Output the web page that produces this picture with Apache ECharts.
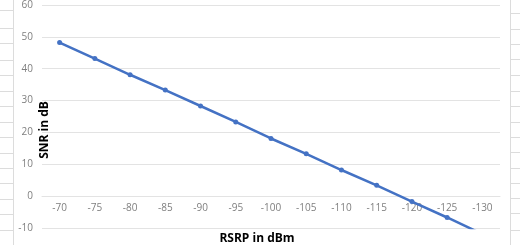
<!DOCTYPE html>
<html>
<head>
<meta charset="utf-8">
<style>html,body{margin:0;padding:0;background:#fff}#c{width:520px;height:245px}</style>
<script src="https://cdn.jsdelivr.net/npm/echarts@6/dist/echarts.min.js"></script>
</head>
<body>
<div id="c"></div>
<script>
const categories = ['-70','-75','-80','-85','-90','-95','-100','-105','-110','-115','-120','-125','-130'];
const snrValues = [48.2, 43.2, 38.1, 33.3, 28.3, 23.3, 18.1, 13.3, 8.2, 3.4, -1.7, -6.7, -11.9];
const yTicks = {min: -10, max: 60, interval: 10};
const xTitle = 'RSRP in dBm';
const yTitle = 'SNR in dB';

const chart = echarts.init(document.getElementById('c'), null, {renderer: 'canvas'});

// spreadsheet cell borders at left and right edges (background decoration)
const deco = [];
const cellRowsLeft = [10, 28, 43, 60, 75, 91, 106, 122, 137, 153, 168, 183, 199, 214, 230];
const cellRowsRight = [13, 29, 44, 59, 75, 91, 106, 122, 137, 152, 168, 183, 198, 213, 230];
deco.push({type:'line', shape:{x1:13.5,y1:0,x2:13.5,y2:245}, style:{stroke:'#dcdcdc',lineWidth:1}, silent:true});
deco.push({type:'line', shape:{x1:510.5,y1:0,x2:510.5,y2:245}, style:{stroke:'#dcdcdc',lineWidth:1}, silent:true});
cellRowsLeft.forEach(y => deco.push({type:'line', shape:{x1:0,y1:y+0.5,x2:13,y2:y+0.5}, style:{stroke:'#dcdcdc',lineWidth:1}, silent:true}));
cellRowsRight.forEach(y => deco.push({type:'line', shape:{x1:511,y1:y+0.5,x2:520,y2:y+0.5}, style:{stroke:'#dcdcdc',lineWidth:1}, silent:true}));

deco.push({type:'text', z:10, x:257, y:239,
  style:{text:xTitle, font:'bold 12px "Open Sans", "Noto Sans", sans-serif', fill:'#000', textAlign:'center', textVerticalAlign:'middle'}});
deco.push({type:'text', z:10, x:45, y:130, rotation:Math.PI/2,
  style:{text:yTitle, font:'bold 12px "Open Sans", "Noto Sans", sans-serif', fill:'#000', textAlign:'center', textVerticalAlign:'middle'}});

const gridBottom = 17;
chart.setOption({
  animation:false,
  grid:{left:42, right:20, top:5, bottom:gridBottom, containLabel:false},
  xAxis:{
    type:'category', data:categories, boundaryGap:true, position:'bottom',
    axisLine:{show:true, onZero:false, lineStyle:{color:'#e3e3e3', width:1}},
    axisTick:{show:false},
    axisLabel:{color:'#7f7f7f', fontSize:10, margin:7, fontFamily:'"Open Sans", "Noto Sans", sans-serif'},
    splitLine:{show:false}
  },
  yAxis:{
    type:'value', min:yTicks.min, max:yTicks.max, interval:yTicks.interval,
    axisLine:{show:false}, axisTick:{show:false},
    axisLabel:{color:'#7f7f7f', fontSize:10, margin:9, fontFamily:'"Open Sans", "Noto Sans", sans-serif'},
    splitLine:{lineStyle:{color:'#e3e3e3', width:1}}
  },
  series:[{
    type:'line', data:snrValues,
    symbol:'circle', symbolSize:5,
    lineStyle:{color:'#4472c4', width:2.5},
    itemStyle:{color:'#4472c4'}
  }],
  graphic: deco
});
// move the category axis up so it crosses the value axis at 0
const zeroY = chart.convertToPixel({yAxisIndex:0}, 0);
const bottomY = chart.convertToPixel({yAxisIndex:0}, yTicks.min);
chart.setOption({xAxis:{offset: -(bottomY - zeroY)}});
</script>
</body>
</html>
